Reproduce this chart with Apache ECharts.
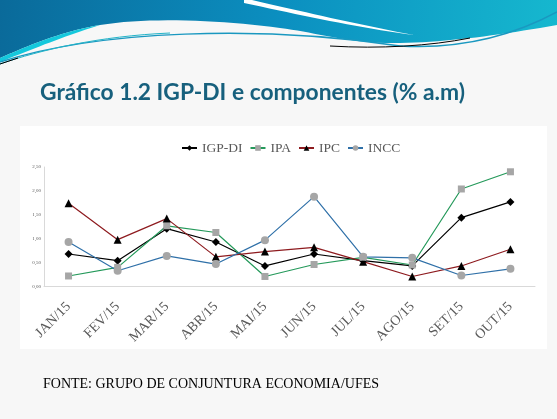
<!DOCTYPE html>
<html lang="pt">
<head>
<meta charset="UTF-8">
<script src="https://cdn.jsdelivr.net/npm/echarts@6/dist/echarts.min.js"></script>
<title>IGP-DI e componentes</title>
<style>
  html, body { margin: 0; padding: 0; background: #f7f7f7; }
  #chart { width: 557px; height: 419px; }
</style>
</head>
<body>
<div id="chart"></div>
<script>
const meses = ['JAN/15', 'FEV/15', 'MAR/15', 'ABR/15', 'MAI/15', 'JUN/15', 'JUL/15', 'AGO/15', 'SET/15', 'OUT/15'];
const igpdi = [0.68, 0.54, 1.21, 0.93, 0.43, 0.68, 0.54, 0.43, 1.44, 1.77];
const ipa   = [0.22, 0.40, 1.27, 1.13, 0.21, 0.46, 0.61, 0.45, 2.04, 2.40];
const ipc   = [1.74, 0.98, 1.42, 0.62, 0.73, 0.82, 0.52, 0.21, 0.43, 0.78];
const incc  = [0.93, 0.33, 0.64, 0.47, 0.97, 1.88, 0.62, 0.60, 0.23, 0.37];
const yTicks = [0, 0.5, 1, 1.5, 2, 2.5];

const chart = echarts.init(document.getElementById('chart'));

const serif = '"Liberation Serif", "DejaVu Serif", serif';

function linha(name, data, color, symbol, symbolColor, size) {
    return {
        name: name,
        type: 'line',
        data: data,
        symbol: symbol,
        symbolSize: size,
        lineStyle: { color: color, width: 1.2 },
        itemStyle: { color: symbolColor, borderWidth: 0 },
        emphasis: { disabled: true },
        animation: false
    };
}

// pontos de uma curva de bezier cubica (para o enfeite do topo)
function bez(p0, p1, p2, p3) {
    const pts = [];
    for (let i = 0; i <= 20; i++) {
        const t = i / 20, u = 1 - t;
        pts.push([
            u * u * u * p0[0] + 3 * u * u * t * p1[0] + 3 * u * t * t * p2[0] + t * t * t * p3[0],
            u * u * u * p0[1] + 3 * u * u * t * p1[1] + 3 * u * t * t * p2[1] + t * t * t * p3[1]
        ]);
    }
    return pts;
}

function curva(x1, y1, cx1, cy1, cx2, cy2, x2, y2, cor, largura) {
    return {
        type: 'bezierCurve', z: -3,
        shape: { x1: x1, y1: y1, cpx1: cx1, cpy1: cy1, cpx2: cx2, cpy2: cy2, x2: x2, y2: y2 },
        style: { stroke: cor, lineWidth: largura, fill: null }
    };
}

const bordaAzul = [[0, 0], [557, 0], [557, 25]]
    .concat(bez([557, 25], [500, 35], [450, 42], [400, 43]))
    .concat(bez([400, 43], [350, 44], [320, 33], [280, 28]))
    .concat(bez([280, 28], [220, 20], [150, 17], [100, 25]))
    .concat(bez([100, 25], [60, 32], [30, 45], [0, 58]));

const bordaCiano = bez([0, 58], [30, 45], [60, 32], [100, 25])
    .concat(bez([100, 25], [70, 34], [30, 50], [0, 62]));

const faixaBranca = [[244, 0]]
    .concat(bez([252, 0], [300, 11], [360, 25], [414, 35]))
    .concat(bez([414, 35], [360, 28], [300, 15], [244, 3]));

const faixaAzul = {
    type: 'linear', x: 0, y: 0, x2: 1, y2: 1,
    colorStops: [
        { offset: 0, color: '#0a6a9a' },
        { offset: 0.5, color: '#0b8fc0' },
        { offset: 1, color: '#16b8cf' }
    ]
};

const option = {
    backgroundColor: '#f7f7f7',
    title: {
        text: 'Gráfico 1.2 IGP-DI e componentes (% a.m)',
        left: 35,
        top: 76,
        textStyle: {
            color: '#17607d',
            fontFamily: 'Lato, "Open Sans", sans-serif',
            fontWeight: 'bold',
            fontSize: 22.8
        }
    },
    graphic: [
        // fundo branco da área do gráfico
        { type: 'rect', z: -10, shape: { x: 20, y: 126, width: 527, height: 223 }, style: { fill: '#ffffff' } },
        // faixa azul do cabeçalho
        { type: 'polygon', z: -5, shape: { points: bordaAzul }, style: { fill: faixaAzul } },
        { type: 'polygon', z: -4, shape: { points: bordaCiano }, style: { fill: '#14c8dc' } },
        { type: 'polygon', z: -3, shape: { points: faixaBranca }, style: { fill: '#ffffff' } },
        curva(0, 62, 100, 30, 260, 25, 400, 46, '#1a98c0', 1.5),
        curva(400, 46, 470, 50, 520, 32, 557, 12, '#1a98c0', 1.5),
        curva(0, 64, 40, 50, 100, 36, 170, 33, '#23b4c8', 1),
        curva(330, 46, 380, 49, 430, 46, 470, 38, '#000000', 1),
        curva(0, 64, 6, 62, 12, 60, 18, 58, '#000000', 1),
        // fonte
        {
            type: 'text', left: 43, top: 377,
            style: { text: 'FONTE: GRUPO DE CONJUNTURA ECONOMIA/UFES', fill: '#000000', font: '14px ' + serif }
        }
    ],
    legend: {
        top: 136,
        left: 176,
        itemWidth: 15,
        itemHeight: 7,
        itemGap: 7,
        textStyle: { color: '#595959', fontFamily: serif, fontSize: 13.5 },
        data: ['IGP-DI', 'IPA', 'IPC', 'INCC']
    },
    grid: { left: 44, right: 22, top: 167, bottom: 132.5 },
    xAxis: {
        type: 'category',
        data: meses,
        boundaryGap: true,
        axisLine: { lineStyle: { color: '#d9d9d9', width: 1 } },
        axisTick: { show: false },
        axisLabel: { rotate: 45, color: '#595959', fontFamily: serif, fontSize: 14, margin: 18, interval: 0 }
    },
    yAxis: {
        type: 'value',
        min: yTicks[0],
        max: yTicks[yTicks.length - 1],
        interval: 0.5,
        axisLine: { show: true, lineStyle: { color: '#d9d9d9', width: 1 } },
        axisTick: { show: false },
        splitLine: { show: false },
        axisLabel: {
            color: '#595959', fontFamily: serif, fontSize: 5, margin: 3,
            formatter: v => v.toFixed(2).replace('.', ',')
        }
    },
    series: [
        linha('IGP-DI', igpdi, '#000000', 'diamond', '#000000', 8),
        linha('IPA', ipa, '#24995a', 'rect', '#a6a6a6', 7),
        linha('IPC', ipc, '#8e1b1f', 'triangle', '#000000', 8),
        linha('INCC', incc, '#2f70a8', 'circle', '#a6a6a6', 8)
    ]
};

chart.setOption(option);
</script>
</body>
</html>
